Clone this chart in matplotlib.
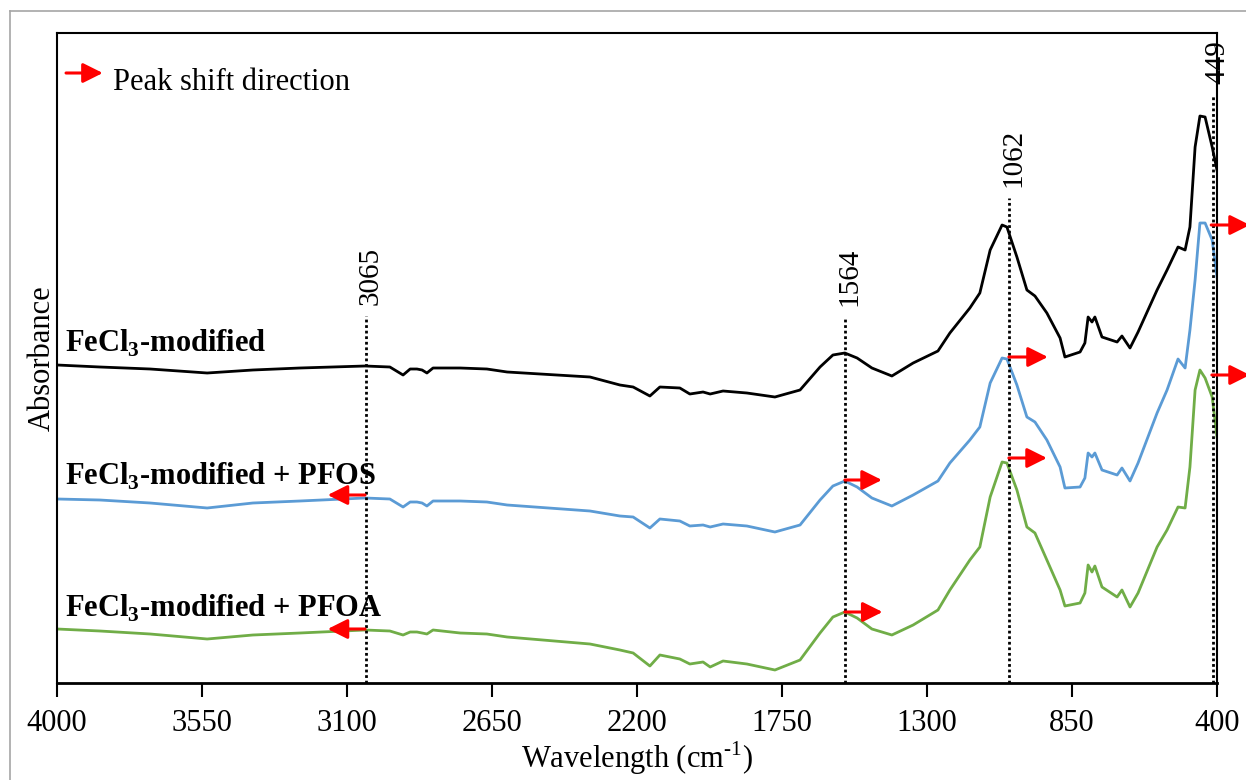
import matplotlib
matplotlib.use("Agg")
import matplotlib.pyplot as plt
from matplotlib.lines import Line2D

plt.rcParams['font.family'] = ['Liberation Serif', 'DejaVu Serif']
plt.rcParams['mathtext.fontset'] = 'custom'
plt.rcParams['mathtext.rm'] = 'Liberation Serif'
plt.rcParams['mathtext.bf'] = 'Liberation Serif:bold'

# wavenumbers (cm-1) where the spectra were read
wavenumber = [4000, 3867, 3711, 3534, 3392, 3246, 3044, 2967, 2926, 2904, 2883, 2867,
              2852, 2833, 2749, 2666, 2603, 2346, 2253, 2212, 2160, 2129, 2067, 2036,
              1995, 1973, 1933, 1859, 1772, 1694, 1632, 1592, 1555, 1517, 1471, 1409,
              1343, 1266, 1229, 1167, 1136, 1104, 1067, 1052, 1021, 990, 965, 928,
              887, 872, 825, 810, 800, 788, 779, 757, 710, 695, 670, 645,
              586, 555, 521, 499, 484, 468, 453, 437, 415, 400]

# absorbance (offset, arbitrary units)
fecl3 = [3.18, 3.16, 3.14, 3.10, 3.13, 3.15, 3.17, 3.16, 3.08, 3.14, 3.14, 3.13,
         3.10, 3.15, 3.15, 3.14, 3.11, 3.06, 2.98, 2.96, 2.87, 2.96, 2.95, 2.89,
         2.91, 2.89, 2.92, 2.90, 2.86, 2.93, 3.16, 3.28, 3.30, 3.25, 3.15, 3.07,
         3.20, 3.32, 3.50, 3.75, 3.90, 4.33, 4.58, 4.56, 4.26, 3.93, 3.87, 3.70,
         3.45, 3.26, 3.31, 3.40, 3.66, 3.61, 3.66, 3.46, 3.41, 3.47, 3.35, 3.51,
         3.93, 4.13, 4.36, 4.33, 4.56, 5.36, 5.67, 5.66, 5.36, 5.13]
fecl3_pfos = [1.84, 1.83, 1.80, 1.75, 1.80, 1.82, 1.85, 1.84, 1.76, 1.81, 1.81, 1.80,
              1.77, 1.82, 1.82, 1.81, 1.78, 1.72, 1.67, 1.66, 1.55, 1.64, 1.62, 1.57,
              1.58, 1.56, 1.59, 1.57, 1.51, 1.58, 1.83, 1.97, 2.02, 1.96, 1.85, 1.77,
              1.88, 2.02, 2.20, 2.43, 2.56, 3.00, 3.25, 3.24, 2.98, 2.66, 2.61, 2.43,
              2.16, 1.95, 1.96, 2.05, 2.30, 2.26, 2.30, 2.13, 2.08, 2.15, 2.02, 2.20,
              2.70, 2.93, 3.24, 3.15, 3.53, 4.03, 4.60, 4.60, 4.43, 4.06]
fecl3_pfoa = [0.54, 0.52, 0.49, 0.44, 0.48, 0.50, 0.53, 0.52, 0.48, 0.51, 0.51, 0.50,
              0.49, 0.53, 0.50, 0.49, 0.46, 0.39, 0.33, 0.30, 0.17, 0.28, 0.24, 0.19,
              0.21, 0.16, 0.22, 0.19, 0.13, 0.23, 0.50, 0.66, 0.71, 0.65, 0.54, 0.48,
              0.58, 0.73, 0.93, 1.23, 1.36, 1.86, 2.21, 2.20, 1.93, 1.56, 1.50, 1.23,
              0.93, 0.77, 0.80, 0.90, 1.18, 1.11, 1.17, 0.96, 0.86, 0.93, 0.76, 0.90,
              1.36, 1.53, 1.76, 1.75, 2.16, 2.93, 3.13, 3.05, 2.86, 2.46]

series_names = ['FeCl$_\\mathbf{3}$-modified',
                'FeCl$_\\mathbf{3}$-modified + PFOS',
                'FeCl$_\\mathbf{3}$-modified + PFOA']
series_colors = ['black', '#5b9bd5', '#70ad47']
name_y = [3.31, 1.98, 0.66]

# marked peaks: label, drawn position, top of dotted line
peak_labels = ['3065', '1564', '1062', '449']
peak_pos = [3041, 1555, 1046, 412]
peak_top = [3.67, 3.66, 4.85, 5.88]

# shift arrows (tail wavenumber, tip wavenumber, absorbance)
arrows = [(3044, 3160, 1.88), (3044, 3160, 0.54),
          (1555, 1440, 2.03), (1555, 1438, 0.71),
          (1046, 925, 3.26), (1046, 928, 2.25),
          (418, 298, 4.58), (416, 298, 3.08)]

fig = plt.figure(figsize=(12.46, 7.8), dpi=100)
ax = fig.add_axes([0.04575, 0.12436, 0.93098, 0.83333])

for ys, c in zip([fecl3, fecl3_pfos, fecl3_pfoa], series_colors):
    ax.plot(wavenumber, ys, color=c, lw=2.0, solid_joinstyle='round')

for name, y in zip(series_names, name_y):
    ax.text(3975, y, name, fontsize=22, fontweight='bold', va='baseline', ha='left')

for lab, x, top in zip(peak_labels, peak_pos, peak_top):
    ax.plot([x, x], [0, top], color='black', lw=2.0, linestyle=(0, (1, 1)))
    ax.annotate(lab, (x, top), xytext=(3, 8), textcoords='offset points',
                rotation=90, ha='center', va='bottom', fontsize=21)

arrow_style = dict(arrowstyle='-|>', color='red', lw=2.2, mutation_scale=30,
                   shrinkA=0, shrinkB=0)
for tail, tip, y in arrows:
    ax.annotate('', xy=(tip, y), xytext=(tail, y), arrowprops=arrow_style,
                annotation_clip=False)

# legend-like note
ax.annotate('', xy=(3858, 6.10), xytext=(3972, 6.10), arrowprops=arrow_style)
ax.text(3826, 6.01, 'Peak shift direction', fontsize=22, va='center', ha='left')

ax.set_xlim(4000, 400)
ax.set_ylim(0, 6.5)
ax.set_xticks(list(range(4000, 399, -450)))
ax.tick_params(axis='x', direction='out', length=10, width=1.5, labelsize=22, pad=9)
ax.set_yticks([])
for s in ax.spines.values():
    s.set_linewidth(1.5)
ax.spines['bottom'].set_linewidth(2)
ax.set_xlabel('Wavelength (cm$^{\\text{-1}}$)', fontsize=22, labelpad=1)
ax.set_ylabel('Absorbance', fontsize=22, labelpad=0)

# chart area border
fig.add_artist(Line2D([9.5 / 1246, 9.5 / 1246], [0, 1 - 11 / 780], color='#a6a6a6', lw=1.2))
fig.add_artist(Line2D([9.5 / 1246, 1], [1 - 11 / 780, 1 - 11 / 780], color='#a6a6a6', lw=1.2))

fig.savefig('out.png', dpi=100)
